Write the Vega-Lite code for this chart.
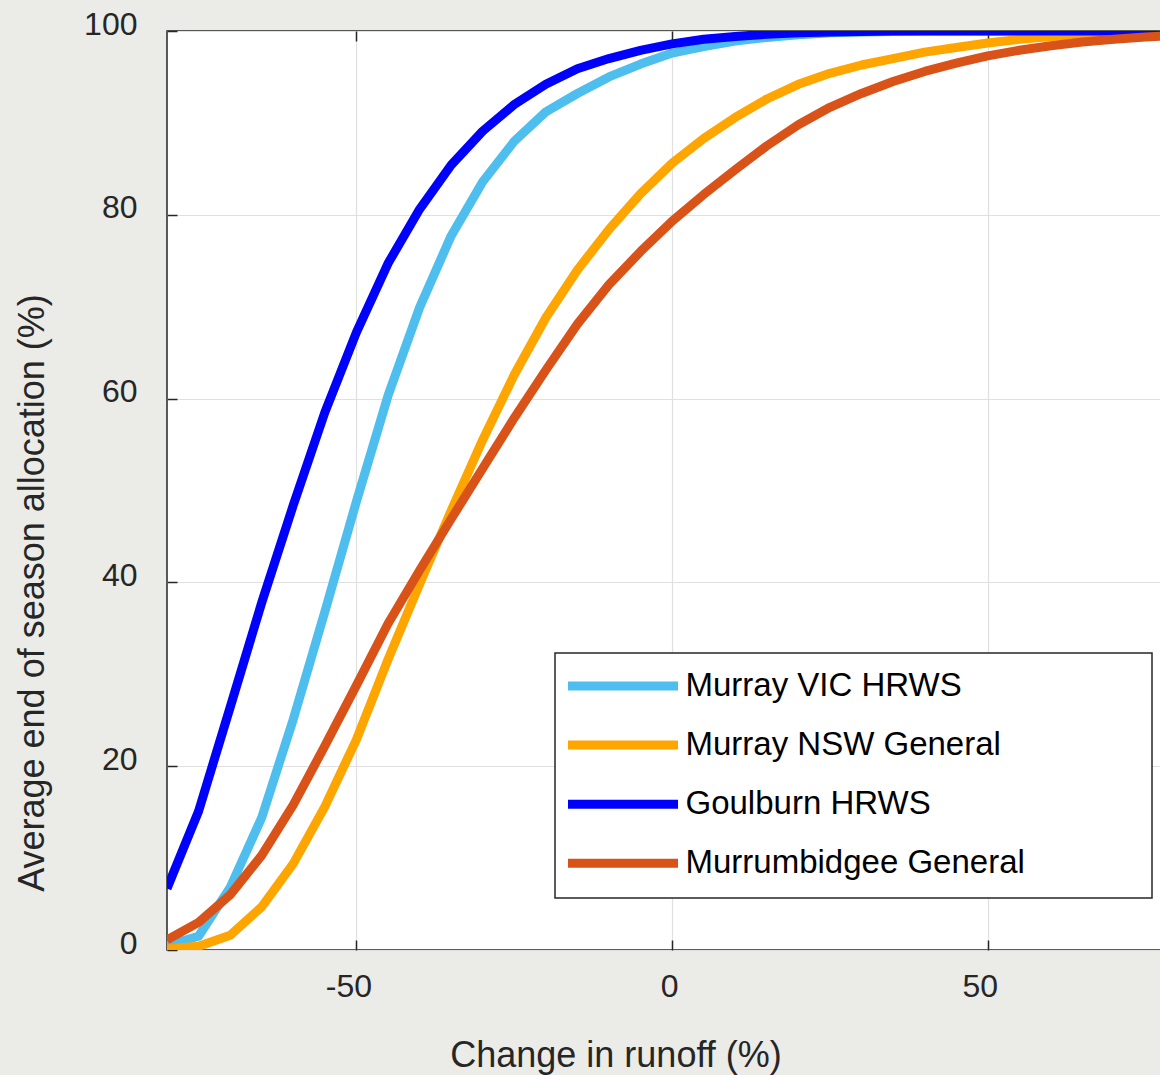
{
  "$schema": "https://vega.github.io/schema/vega-lite/v6.json",
  "width": 995,
  "height": 919,
  "autosize": {"type": "none"},
  "padding": {"left": 167, "top": 31, "right": 0, "bottom": 125},
  "background": "#ebebe7",
  "config": {
    "font": "Liberation Sans",
    "view": {"fill": "white", "stroke": "#262626", "strokeWidth": 1.5},
    "axis": {
      "labelFont": "Liberation Sans",
      "labelFontSize": 32,
      "labelColor": "#262626",
      "titleFont": "Liberation Sans",
      "titleFontSize": 36,
      "titleFontWeight": "normal",
      "titleColor": "#262626",
      "domain": false,
      "tickColor": "#262626",
      "tickSize": -10,
      "tickWidth": 1.5,
      "gridColor": "#e0e0e0",
      "gridWidth": 1.2
    },
    "legend": {
      "orient": "none",
      "legendX": 388,
      "legendY": 622,
      "padding": 16.5,
      "strokeColor": "#262626",
      "strokeWidth": 1.5,
      "fillColor": "white",
      "symbolType": "M-4,0H18",
      "symbolSize": 100,
      "symbolStrokeWidth": 9,
      "labelFont": "Liberation Sans",
      "labelFontSize": 33,
      "labelColor": "black",
      "labelOffset": 81,
      "rowPadding": 22.1,
      "labelLimit": 800
    }
  },
  "data": {
    "values": [
      {"change": -80, "series": "Murray VIC HRWS", "alloc": 0.5},
      {"change": -75, "series": "Murray VIC HRWS", "alloc": 1.5},
      {"change": -70, "series": "Murray VIC HRWS", "alloc": 6.8},
      {"change": -65, "series": "Murray VIC HRWS", "alloc": 14.4},
      {"change": -60, "series": "Murray VIC HRWS", "alloc": 25.1},
      {"change": -55, "series": "Murray VIC HRWS", "alloc": 36.8},
      {"change": -50, "series": "Murray VIC HRWS", "alloc": 48.8},
      {"change": -45, "series": "Murray VIC HRWS", "alloc": 60.3},
      {"change": -40, "series": "Murray VIC HRWS", "alloc": 69.9},
      {"change": -35, "series": "Murray VIC HRWS", "alloc": 77.7},
      {"change": -30, "series": "Murray VIC HRWS", "alloc": 83.6},
      {"change": -25, "series": "Murray VIC HRWS", "alloc": 88.0},
      {"change": -20, "series": "Murray VIC HRWS", "alloc": 91.2},
      {"change": -15, "series": "Murray VIC HRWS", "alloc": 93.2},
      {"change": -10, "series": "Murray VIC HRWS", "alloc": 95.0},
      {"change": -5, "series": "Murray VIC HRWS", "alloc": 96.4},
      {"change": 0, "series": "Murray VIC HRWS", "alloc": 97.6},
      {"change": 5, "series": "Murray VIC HRWS", "alloc": 98.3},
      {"change": 10, "series": "Murray VIC HRWS", "alloc": 98.9},
      {"change": 15, "series": "Murray VIC HRWS", "alloc": 99.3},
      {"change": 20, "series": "Murray VIC HRWS", "alloc": 99.6},
      {"change": 25, "series": "Murray VIC HRWS", "alloc": 99.8},
      {"change": 30, "series": "Murray VIC HRWS", "alloc": 99.9},
      {"change": 35, "series": "Murray VIC HRWS", "alloc": 99.95},
      {"change": 40, "series": "Murray VIC HRWS", "alloc": 100},
      {"change": 45, "series": "Murray VIC HRWS", "alloc": 100},
      {"change": 50, "series": "Murray VIC HRWS", "alloc": 100},
      {"change": 55, "series": "Murray VIC HRWS", "alloc": 100},
      {"change": 60, "series": "Murray VIC HRWS", "alloc": 100},
      {"change": 65, "series": "Murray VIC HRWS", "alloc": 100},
      {"change": 70, "series": "Murray VIC HRWS", "alloc": 100},
      {"change": 75, "series": "Murray VIC HRWS", "alloc": 100},
      {"change": 80, "series": "Murray VIC HRWS", "alloc": 100},

      {"change": -80, "series": "Murray NSW General", "alloc": 0.1},
      {"change": -75, "series": "Murray NSW General", "alloc": 0.4},
      {"change": -70, "series": "Murray NSW General", "alloc": 1.6},
      {"change": -65, "series": "Murray NSW General", "alloc": 4.7},
      {"change": -60, "series": "Murray NSW General", "alloc": 9.4},
      {"change": -55, "series": "Murray NSW General", "alloc": 15.6},
      {"change": -50, "series": "Murray NSW General", "alloc": 22.9},
      {"change": -45, "series": "Murray NSW General", "alloc": 31.6},
      {"change": -40, "series": "Murray NSW General", "alloc": 39.8},
      {"change": -35, "series": "Murray NSW General", "alloc": 47.8},
      {"change": -30, "series": "Murray NSW General", "alloc": 55.5},
      {"change": -25, "series": "Murray NSW General", "alloc": 62.6},
      {"change": -20, "series": "Murray NSW General", "alloc": 68.8},
      {"change": -15, "series": "Murray NSW General", "alloc": 74.0},
      {"change": -10, "series": "Murray NSW General", "alloc": 78.4},
      {"change": -5, "series": "Murray NSW General", "alloc": 82.3},
      {"change": 0, "series": "Murray NSW General", "alloc": 85.6},
      {"change": 5, "series": "Murray NSW General", "alloc": 88.3},
      {"change": 10, "series": "Murray NSW General", "alloc": 90.6},
      {"change": 15, "series": "Murray NSW General", "alloc": 92.6},
      {"change": 20, "series": "Murray NSW General", "alloc": 94.2},
      {"change": 25, "series": "Murray NSW General", "alloc": 95.4},
      {"change": 30, "series": "Murray NSW General", "alloc": 96.3},
      {"change": 35, "series": "Murray NSW General", "alloc": 97.0},
      {"change": 40, "series": "Murray NSW General", "alloc": 97.7},
      {"change": 45, "series": "Murray NSW General", "alloc": 98.2},
      {"change": 50, "series": "Murray NSW General", "alloc": 98.7},
      {"change": 55, "series": "Murray NSW General", "alloc": 99.1},
      {"change": 60, "series": "Murray NSW General", "alloc": 99.4},
      {"change": 65, "series": "Murray NSW General", "alloc": 99.6},
      {"change": 70, "series": "Murray NSW General", "alloc": 99.7},
      {"change": 75, "series": "Murray NSW General", "alloc": 99.8},
      {"change": 80, "series": "Murray NSW General", "alloc": 99.9},

      {"change": -80, "series": "Goulburn HRWS", "alloc": 6.7},
      {"change": -75, "series": "Goulburn HRWS", "alloc": 15.1},
      {"change": -70, "series": "Goulburn HRWS", "alloc": 26.4},
      {"change": -65, "series": "Goulburn HRWS", "alloc": 37.8},
      {"change": -60, "series": "Goulburn HRWS", "alloc": 48.4},
      {"change": -55, "series": "Goulburn HRWS", "alloc": 58.5},
      {"change": -50, "series": "Goulburn HRWS", "alloc": 67.2},
      {"change": -45, "series": "Goulburn HRWS", "alloc": 74.7},
      {"change": -40, "series": "Goulburn HRWS", "alloc": 80.6},
      {"change": -35, "series": "Goulburn HRWS", "alloc": 85.4},
      {"change": -30, "series": "Goulburn HRWS", "alloc": 89.1},
      {"change": -25, "series": "Goulburn HRWS", "alloc": 92.0},
      {"change": -20, "series": "Goulburn HRWS", "alloc": 94.2},
      {"change": -15, "series": "Goulburn HRWS", "alloc": 95.9},
      {"change": -10, "series": "Goulburn HRWS", "alloc": 97.0},
      {"change": -5, "series": "Goulburn HRWS", "alloc": 97.9},
      {"change": 0, "series": "Goulburn HRWS", "alloc": 98.6},
      {"change": 5, "series": "Goulburn HRWS", "alloc": 99.1},
      {"change": 10, "series": "Goulburn HRWS", "alloc": 99.4},
      {"change": 15, "series": "Goulburn HRWS", "alloc": 99.65},
      {"change": 20, "series": "Goulburn HRWS", "alloc": 99.8},
      {"change": 25, "series": "Goulburn HRWS", "alloc": 99.9},
      {"change": 30, "series": "Goulburn HRWS", "alloc": 99.95},
      {"change": 35, "series": "Goulburn HRWS", "alloc": 100},
      {"change": 40, "series": "Goulburn HRWS", "alloc": 100},
      {"change": 45, "series": "Goulburn HRWS", "alloc": 100},
      {"change": 50, "series": "Goulburn HRWS", "alloc": 100},
      {"change": 55, "series": "Goulburn HRWS", "alloc": 100},
      {"change": 60, "series": "Goulburn HRWS", "alloc": 100},
      {"change": 65, "series": "Goulburn HRWS", "alloc": 100},
      {"change": 70, "series": "Goulburn HRWS", "alloc": 100},
      {"change": 75, "series": "Goulburn HRWS", "alloc": 100},
      {"change": 80, "series": "Goulburn HRWS", "alloc": 100},

      {"change": -80, "series": "Murrumbidgee General", "alloc": 1.1},
      {"change": -75, "series": "Murrumbidgee General", "alloc": 3.0},
      {"change": -70, "series": "Murrumbidgee General", "alloc": 6.0},
      {"change": -65, "series": "Murrumbidgee General", "alloc": 10.3},
      {"change": -60, "series": "Murrumbidgee General", "alloc": 15.8},
      {"change": -55, "series": "Murrumbidgee General", "alloc": 22.2},
      {"change": -50, "series": "Murrumbidgee General", "alloc": 28.8},
      {"change": -45, "series": "Murrumbidgee General", "alloc": 35.5},
      {"change": -40, "series": "Murrumbidgee General", "alloc": 41.3},
      {"change": -35, "series": "Murrumbidgee General", "alloc": 46.9},
      {"change": -30, "series": "Murrumbidgee General", "alloc": 52.4},
      {"change": -25, "series": "Murrumbidgee General", "alloc": 57.9},
      {"change": -20, "series": "Murrumbidgee General", "alloc": 63.1},
      {"change": -15, "series": "Murrumbidgee General", "alloc": 68.1},
      {"change": -10, "series": "Murrumbidgee General", "alloc": 72.4},
      {"change": -5, "series": "Murrumbidgee General", "alloc": 76.0},
      {"change": 0, "series": "Murrumbidgee General", "alloc": 79.3},
      {"change": 5, "series": "Murrumbidgee General", "alloc": 82.2},
      {"change": 10, "series": "Murrumbidgee General", "alloc": 84.9},
      {"change": 15, "series": "Murrumbidgee General", "alloc": 87.5},
      {"change": 20, "series": "Murrumbidgee General", "alloc": 89.8},
      {"change": 25, "series": "Murrumbidgee General", "alloc": 91.7},
      {"change": 30, "series": "Murrumbidgee General", "alloc": 93.2},
      {"change": 35, "series": "Murrumbidgee General", "alloc": 94.5},
      {"change": 40, "series": "Murrumbidgee General", "alloc": 95.6},
      {"change": 45, "series": "Murrumbidgee General", "alloc": 96.5},
      {"change": 50, "series": "Murrumbidgee General", "alloc": 97.3},
      {"change": 55, "series": "Murrumbidgee General", "alloc": 97.9},
      {"change": 60, "series": "Murrumbidgee General", "alloc": 98.4},
      {"change": 65, "series": "Murrumbidgee General", "alloc": 98.8},
      {"change": 70, "series": "Murrumbidgee General", "alloc": 99.1},
      {"change": 75, "series": "Murrumbidgee General", "alloc": 99.35},
      {"change": 80, "series": "Murrumbidgee General", "alloc": 99.5}
    ]
  },
  "layer": [
    {
      "mark": {"type": "line", "strokeWidth": 9, "clip": true, "strokeJoin": "round"},
      "encoding": {
        "x": {
          "field": "change",
          "type": "quantitative",
          "scale": {"domain": [-80, 77.6], "nice": false, "zero": false},
          "axis": {
            "orient": "bottom",
            "values": [-50, 0, 50],
            "labelExpr": "toString(datum.value)",
            "labelPadding": 31,
            "labelOffset": {"condition": {"test": "datum.value == 0", "value": -3}, "value": -8},
            "grid": true,
            "title": "Change in runoff (%)",
            "titleX": 448.5,
            "titleY": 116,
            "titleAlign": "center",
            "titleBaseline": "alphabetic"
          }
        },
        "y": {
          "field": "alloc",
          "type": "quantitative",
          "scale": {"domain": [0, 100], "nice": false},
          "axis": {
            "values": [0, 20, 40, 60, 80, 100],
            "labelPadding": 40,
            "labelOffset": -7,
            "grid": true,
            "title": "Average end of season allocation (%)",
            "titleX": -123.5,
            "titleY": 561.5,
            "titleAngle": -90,
            "titleAlign": "center",
            "titleBaseline": "alphabetic"
          }
        },
        "color": {
          "field": "series",
          "type": "nominal",
          "scale": {
            "domain": ["Murray VIC HRWS", "Murray NSW General", "Goulburn HRWS", "Murrumbidgee General"],
            "range": ["#4dbeee", "#ffa500", "#0000ff", "#d95319"]
          },
          "legend": {
            "title": null,
            "labelExpr": "datum.label + '\u00a0\u00a0\u00a0\u00a0\u00a0\u00a0\u00a0\u00a0\u00a0\u00a0\u00a0\u00a0\u200b'"
          }
        }
      }
    },
    {
      "mark": {"type": "rule", "opacity": 0},
      "encoding": {
        "x": {
          "field": "change",
          "type": "quantitative",
          "axis": {
            "orient": "top",
            "values": [-50, 0, 50],
            "labels": false,
            "grid": false,
            "title": null
          }
        }
      }
    }
  ],
  "resolve": {"axis": {"x": "independent"}}
}
